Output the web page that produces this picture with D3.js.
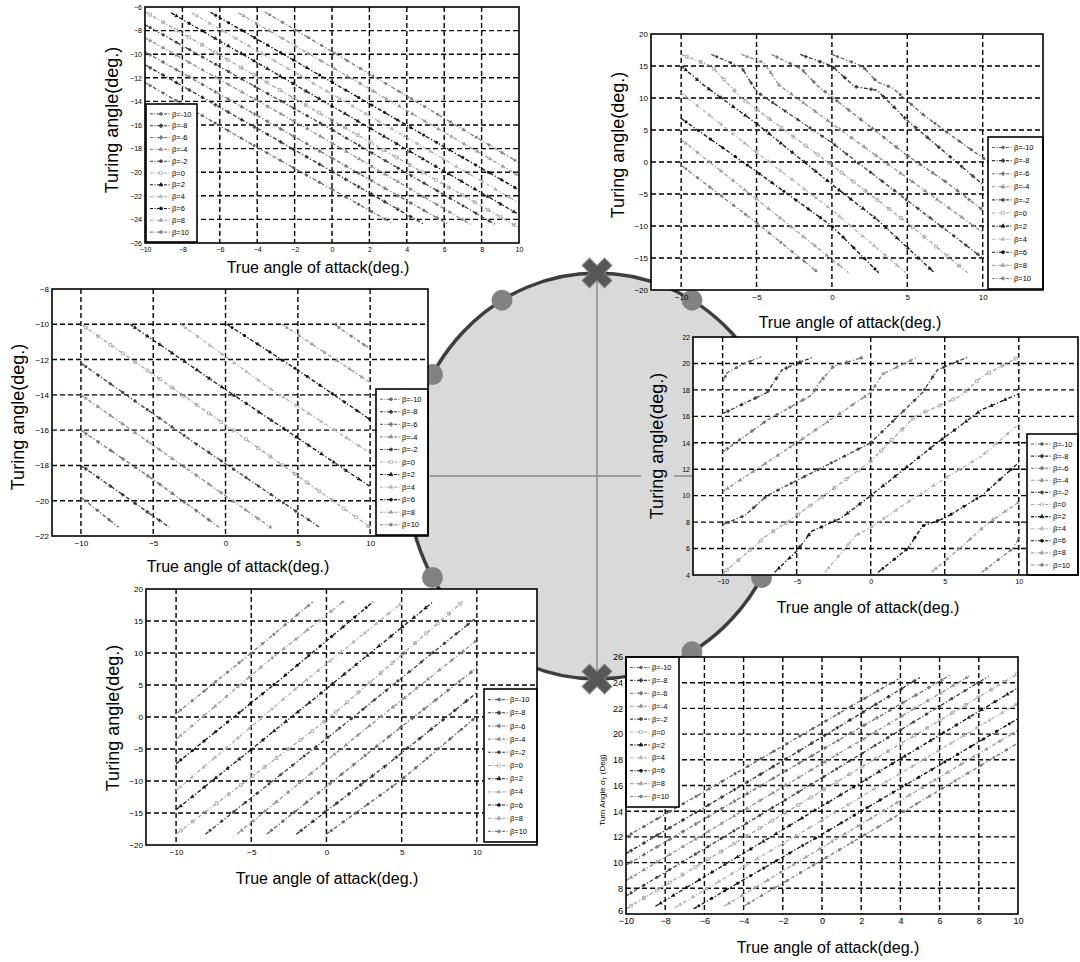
<!DOCTYPE html>
<html>
<head>
<meta charset="utf-8">
<script src="https://cdn.jsdelivr.net/npm/d3@7"></script>
<style>
  body { margin: 0; background: #fff; }
  svg { display: block; }
  text { font-family: "Liberation Sans", Arial, sans-serif; fill: #000; }
</style>
</head>
<body>
<svg id="fig" width="1080" height="962"></svg>
<script>
// ---- data ----
const betas = [-10, -8, -6, -4, -2, 0, 2, 4, 6, 8, 10];
const betaLabels = betas.map(b => 'β=' + b);

const ticksStep2From10 = [-10, -8, -6, -4, -2, 0, 2, 4, 6, 8, 10];
const ticksStep5 = [-10, -5, 0, 5, 10];
const p1YTicks = [-26, -24, -22, -20, -18, -16, -14, -12, -10, -8, -6];
const p2YTicks = [-20, -15, -10, -5, 0, 5, 10, 15, 20];
const p3YTicks = [-22, -20, -18, -16, -14, -12, -10, -8];
const p4YTicks = [4, 6, 8, 10, 12, 14, 16, 18, 20, 22];
const p5YTicks = [-20, -15, -10, -5, 0, 5, 10, 15, 20];
const p6YTicks = [6, 8, 10, 12, 14, 16, 18, 20, 22, 24, 26];

// each panel: one line per beta, in legend order (beta = -10 ... 10), points [alpha, turn]
const p1Lines = [
  [[-10, -12.4], [-4, -17.9], [3.2, -24.3]],
  [[-10, -10.9], [-3, -17.2], [4.9, -24.4]],
  [[-10, -9.8], [-2, -17.0], [6.2, -24.4]],
  [[-10, -8.6], [-1, -16.6], [7.5, -24.5]],
  [[-10, -7.5], [0, -16.4], [8.7, -24.4]],
  [[-10, -6.4], [0, -15.6], [10, -24.7]],
  [[-8.6, -6.5], [0, -14.4], [10, -23.6]],
  [[-7.5, -6.5], [1, -14.3], [10, -22.6]],
  [[-6.5, -6.45], [2, -14.2], [10, -21.5]],
  [[-5, -6.5], [2.5, -13.4], [10, -20.3]],
  [[-3.6, -6.4], [3, -12.6], [10, -19.2]]
];
const p2Lines = [
  [[0, 16.8], [2, 15], [3, 12.5], [4, 11.6], [6, 7.5], [8, 4], [10.4, 0]],
  [[-2.1, 16.8], [0, 15], [1.5, 11.8], [3, 11.2], [5, 6.5], [7.5, 1.5], [10, -3.5]],
  [[-4, 16.8], [-2, 14.5], [-1, 12], [2, 6.5], [5, 1], [7.5, -3], [10, -7.5]],
  [[-6, 16.8], [-4.5, 15.5], [-3.5, 12], [0, 6], [5, -2.5], [10, -11]],
  [[-8, 16.8], [-6, 14.8], [-5, 11], [0, 3], [5, -6], [10, -15]],
  [[-10, 16.8], [-8, 15], [-6, 10], [0, -0.5], [5, -9.5], [9, -17.3]],
  [[-10, 15], [-8.5, 12], [-5, 6], [0, -3.5], [3, -9], [6.8, -17.3]],
  [[-10, 10.8], [-5, 1.5], [0, -7.5], [4.9, -17.3]],
  [[-10, 6.8], [-5, -1.5], [0, -10], [3.1, -17.3]],
  [[-10, 3.5], [-5, -5.8], [1.1, -17.3]],
  [[-10, -0.5], [-5, -9.5], [-0.9, -17.3]]
];
const p3Lines = [
  [[-10, -19.8], [-7.4, -21.5]],
  [[-10, -18], [-3.9, -21.5]],
  [[-10, -16], [-5, -18.8], [-0.45, -21.5]],
  [[-10, -14], [-3, -18], [3.1, -21.5]],
  [[-10, -12.2], [-2, -16.8], [6.5, -21.5]],
  [[-10, -10], [0, -15.7], [10, -21.5]],
  [[-6.6, -10], [0, -13.7], [10, -19.2]],
  [[-3.1, -10], [3, -13.6], [10, -17.3]],
  [[0.1, -10], [5, -12.6], [10, -15.4]],
  [[3.9, -10], [10, -13.3]],
  [[7.5, -10], [10, -11.4]]
];
const p4Lines = [
  [[-10, 18.6], [-9.7, 19.3], [-8.5, 20], [-7.4, 20.5]],
  [[-10, 16.2], [-8.5, 17], [-7, 17.8], [-6, 19.5], [-5, 20], [-3.85, 20.5]],
  [[-10, 13.3], [-7, 15.7], [-4, 17.6], [-3.5, 18.5], [-2.5, 19.8], [-0.4, 20.5]],
  [[-10, 10.3], [-5, 14], [0, 17.8], [0.8, 19.2], [3.2, 20.5]],
  [[-10, 7.8], [-8.5, 8.5], [-7, 10], [0, 14], [3.5, 17.8], [4.5, 19.5], [6.6, 20.5]],
  [[-10, 4.1], [-7, 7], [-5, 8.5], [0, 12.6], [3, 16], [6, 17.5], [7.5, 19], [10, 20.5]],
  [[-6.5, 4.2], [-5, 5.8], [-4, 7.3], [-2, 8.3], [0, 10], [4.5, 14], [7.5, 16.5], [10, 17.7]],
  [[-3.1, 4.2], [-1, 7], [0, 7.6], [2.5, 9.5], [5, 11.3], [7.5, 13], [10, 15.4]],
  [[0.5, 4.2], [2.5, 6], [3.5, 7.7], [5, 8.3], [7.5, 10], [10, 12.5]],
  [[4.1, 4.2], [6, 6], [7, 7], [8, 8], [10, 9.5]],
  [[7.5, 4.2], [9.6, 6], [10, 6.8]]
];
const p5Lines = [
  [[0, -18.3], [5, -9.8], [10, 0.1]],
  [[-2, -18.3], [4, -7.5], [10, 3.8]],
  [[-3.97, -18.3], [3, -5.2], [10, 7.7]],
  [[-5.95, -18.3], [2, -3], [10, 12]],
  [[-8.05, -18.3], [1, -1.5], [10, 15.6]],
  [[-10, -18.3], [0, -0.5], [9.05, 18]],
  [[-10, -14.5], [-1, 2.5], [7.1, 18]],
  [[-10, -11.5], [-2, 4.5], [5.1, 18]],
  [[-10, -7.3], [-3, 6], [3.1, 18]],
  [[-10, -3.5], [-4, 8.5], [1.1, 18]],
  [[-10, 0.5], [-5, 10], [-0.9, 18]]
];
const p6Lines = [
  [[-10, 12], [-4, 17.3], [3.9, 24.3]],
  [[-10, 10.7], [-3, 17], [5, 24.4]],
  [[-10, 9.8], [-2, 17], [6.55, 24.6]],
  [[-10, 8.6], [-1, 16.8], [7.6, 24.6]],
  [[-10, 7.4], [0, 16.6], [8.5, 24.5]],
  [[-10, 6.4], [0, 15.6], [10, 24.7]],
  [[-8.5, 6.6], [0, 14.4], [10, 23.6]],
  [[-7.5, 6.5], [0, 13.3], [10, 22.4]],
  [[-6.55, 6.4], [0, 12.2], [10, 21.2]],
  [[-5, 6.6], [2, 13], [10, 20.3]],
  [[-4, 6.6], [3, 12.9], [10, 19.3]]
];

// line look per beta (legend order)
const seriesColors = ['#636363', '#333333', '#727272', '#909090', '#404040', '#a5a5a5',
                      '#161616', '#b5b5b5', '#0e0e0e', '#9e9e9e', '#808080'];
const seriesMarkers = [d3.symbolCircle, d3.symbolCross, d3.symbolCross, d3.symbolTriangle,
                       d3.symbolCircle, d3.symbolSquare, d3.symbolTriangle, d3.symbolTriangle,
                       d3.symbolCircle, d3.symbolTriangle, d3.symbolCircle];

const svg = d3.select('#fig');

// ---- central ring ----
const ring = { cx: 597, cy: 476, rx: 190, ry: 203 };
const dotAngles = [30, 60, 90, 120, 150, 210, 240, 270, 300, 330];
const crossAngles = [0, 180];
const ringPt = a => [ring.cx + ring.rx * Math.sin(a * Math.PI / 180),
                     ring.cy - ring.ry * Math.cos(a * Math.PI / 180)];

svg.append('ellipse')
  .attr('cx', ring.cx).attr('cy', ring.cy).attr('rx', ring.rx).attr('ry', ring.ry)
  .attr('fill', '#d9d9d9').attr('stroke', '#3d3d3d').attr('stroke-width', 3.5);
svg.append('line')
  .attr('x1', ring.cx).attr('x2', ring.cx)
  .attr('y1', ring.cy - ring.ry).attr('y2', ring.cy + ring.ry)
  .attr('stroke', '#8a8a8a').attr('stroke-width', 1.5);
svg.append('line')
  .attr('x1', ring.cx - ring.rx).attr('x2', ring.cx + ring.rx)
  .attr('y1', ring.cy).attr('y2', ring.cy)
  .attr('stroke', '#8a8a8a').attr('stroke-width', 1.5);
svg.selectAll('circle.rdot').data(dotAngles).join('circle')
  .attr('class', 'rdot')
  .attr('cx', d => ringPt(d)[0]).attr('cy', d => ringPt(d)[1])
  .attr('r', 10.5).attr('fill', '#828282');
svg.selectAll('path.rx').data(crossAngles).join('path')
  .attr('class', 'rx')
  .attr('d', d3.symbol().type(d3.symbolCross).size(560))
  .attr('transform', d => `translate(${ringPt(d)[0]},${ringPt(d)[1]}) rotate(45)`)
  .attr('fill', '#575757').attr('stroke', '#8c8c8c').attr('stroke-width', 1);

// ---- panels ----
const panels = [
  { id: 'p1', left: 145, right: 519, top: 7, bottom: 243, xDomain: [-10, 10], yDomain: [-26, -6],
    xTicks: ticksStep2From10, yTicks: p1YTicks, lines: p1Lines, tick: 7,
    legend: { x: 146, y: 104, w: 51, h: 138 }, yTitle: { x: 112, y: 120 }, xTitle: { x: 318, y: 273 } },
  { id: 'p2', left: 651, right: 1043, top: 34, bottom: 290, xDomain: [-12, 14], yDomain: [-20, 20],
    xTicks: ticksStep5, yTicks: p2YTicks, lines: p2Lines, tick: 8,
    legend: { x: 988, y: 137, w: 55, h: 152 }, yTitle: { x: 618, y: 145 }, xTitle: { x: 850, y: 328 } },
  { id: 'p3', left: 52, right: 428, top: 289, bottom: 536, xDomain: [-12, 14], yDomain: [-22, -8],
    xTicks: ticksStep5, yTicks: p3YTicks, lines: p3Lines, tick: 8,
    legend: { x: 376, y: 389, w: 52, h: 146 }, yTitle: { x: 18, y: 417 }, xTitle: { x: 238, y: 572 } },
  { id: 'p4', left: 693, right: 1078, top: 337, bottom: 575, xDomain: [-12, 14], yDomain: [4, 22],
    xTicks: ticksStep5, yTicks: p4YTicks, lines: p4Lines, tick: 7,
    legend: { x: 1027, y: 434, w: 51, h: 141 }, yTitle: { x: 657, y: 446 }, xTitle: { x: 868, y: 613 },
    titleBack: true },
  { id: 'p5', left: 146, right: 537, top: 589, bottom: 845, xDomain: [-12, 14], yDomain: [-20, 20],
    xTicks: ticksStep5, yTicks: p5YTicks, lines: p5Lines, tick: 8,
    legend: { x: 484, y: 689, w: 53, h: 153 }, yTitle: { x: 113, y: 718 }, xTitle: { x: 327, y: 884 } },
  { id: 'p6', left: 626, right: 1018, top: 657, bottom: 914, xDomain: [-10, 10], yDomain: [6, 26],
    xTicks: ticksStep2From10, yTicks: p6YTicks, lines: p6Lines, tick: 9, liftBottomY: true,
    legend: { x: 626, y: 657, w: 53, h: 150 }, yTitle: { x: 602, y: 790, small: true }, xTitle: { x: 828, y: 953 } }
];

function drawPanel(p) {
  const g = svg.append('g');
  const x = d3.scaleLinear().domain(p.xDomain).range([p.left, p.right]);
  const y = d3.scaleLinear().domain(p.yDomain).range([p.bottom, p.top]);
  const w = p.right - p.left, h = p.bottom - p.top;

  if (p.titleBack) {
    g.append('rect').attr('x', p.yTitle.x - 16).attr('y', p.yTitle.y - 80)
      .attr('width', 33).attr('height', 160).attr('fill', '#d9d9d9');
  }

  g.append('rect').attr('x', p.left).attr('y', p.top).attr('width', w).attr('height', h)
    .attr('fill', '#fff');

  // dashed grid
  const dash = '5,3';
  g.selectAll('line.gx').data(p.xTicks.filter(t => t > p.xDomain[0] && t < p.xDomain[1])).join('line')
    .attr('x1', d => x(d)).attr('x2', d => x(d)).attr('y1', p.top).attr('y2', p.bottom)
    .attr('stroke', '#000').attr('stroke-width', 1.4).attr('stroke-dasharray', dash);
  g.selectAll('line.gy').data(p.yTicks.filter(t => t > p.yDomain[0] && t < p.yDomain[1])).join('line')
    .attr('x1', p.left).attr('x2', p.right).attr('y1', d => y(d)).attr('y2', d => y(d))
    .attr('stroke', '#000').attr('stroke-width', 1.4).attr('stroke-dasharray', dash);

  // curves
  g.append('clipPath').attr('id', p.id + 'clip').append('rect')
    .attr('x', p.left).attr('y', p.top).attr('width', w).attr('height', h);
  const lg = g.append('g').attr('clip-path', `url(#${p.id}clip)`);
  const line = d3.line().x(d => x(d[0])).y(d => y(d[1]));
  p.lines.forEach((pts, i) => {
    const path = lg.append('path').datum(pts).attr('d', line)
      .attr('fill', 'none').attr('stroke', seriesColors[i]).attr('stroke-width', 1.3)
      .attr('stroke-dasharray', '4,2,1.2,2');
    const len = path.node().getTotalLength();
    const sym = d3.symbol().type(seriesMarkers[i]).size(i === 5 ? 9 : 6);
    for (let s = 6; s < len; s += 15) {
      const pt = path.node().getPointAtLength(s);
      lg.append('path').attr('d', sym)
        .attr('transform', `translate(${pt.x},${pt.y})`)
        .attr('fill', i === 5 ? 'none' : seriesColors[i])
        .attr('stroke', seriesColors[i]).attr('stroke-width', i === 5 ? 0.8 : 0.3);
    }
  });

  // legend
  const L = p.legend;
  const lgd = g.append('g');
  lgd.append('rect').attr('x', L.x).attr('y', L.y).attr('width', L.w).attr('height', L.h)
    .attr('fill', '#fff').attr('stroke', '#000').attr('stroke-width', 1.6);
  const rowH = (L.h - 8) / betaLabels.length;
  betaLabels.forEach((lab, i) => {
    const ry = L.y + 4 + rowH * (i + 0.5);
    lgd.append('line').attr('x1', L.x + 4).attr('x2', L.x + 25).attr('y1', ry).attr('y2', ry)
      .attr('stroke', seriesColors[i]).attr('stroke-width', 1.1).attr('stroke-dasharray', '3,1.5,1,1.5');
    lgd.append('path').attr('d', d3.symbol().type(seriesMarkers[i]).size(i === 5 ? 10 : 7))
      .attr('transform', `translate(${L.x + 15},${ry})`)
      .attr('fill', i === 5 ? 'none' : seriesColors[i]).attr('stroke', seriesColors[i]).attr('stroke-width', 0.6);
    lgd.append('text').attr('x', L.x + 26).attr('y', ry + 2.6)
      .attr('font-size', 7.5).text(lab);
  });

  // frame
  g.append('rect').attr('x', p.left).attr('y', p.top).attr('width', w).attr('height', h)
    .attr('fill', 'none').attr('stroke', '#000').attr('stroke-width', 1.6);

  // axes
  const ax = g.append('g').attr('transform', `translate(0,${p.bottom})`)
    .call(d3.axisBottom(x).tickValues(p.xTicks).tickSize(0).tickPadding(4));
  const ay = g.append('g').attr('transform', `translate(${p.left},0)`)
    .call(d3.axisLeft(y).tickValues(p.yTicks).tickSize(0).tickPadding(3));
  [ax, ay].forEach(a => {
    a.select('.domain').remove();
    a.selectAll('text').attr('font-size', p.tick).attr('fill', '#000')
      .style('font-family', '"Liberation Sans", Arial, sans-serif');
  });
  if (p.liftBottomY) {
    // corner label sits just above the x labels
    ay.selectAll('.tick').filter(d => d === p.yDomain[0]).select('text').attr('y', -3);
  }

  // titles
  g.append('text').attr('x', p.xTitle.x).attr('y', p.xTitle.y).attr('text-anchor', 'middle')
    .attr('font-size', 16).text('True angle of attack(deg.)');
  const yt = g.append('text')
    .attr('transform', `translate(${p.yTitle.x},${p.yTitle.y}) rotate(-90)`)
    .attr('text-anchor', 'middle').attr('dy', '0.35em');
  if (p.yTitle.small) {
    yt.attr('font-size', 8);
    yt.append('tspan').text('Turn Angle σ');
    yt.append('tspan').attr('font-size', 6).attr('dy', 2).text('T');
    yt.append('tspan').attr('dy', -2).text(' (Deg)');
  } else {
    yt.attr('font-size', 18).text('Turing angle(deg.)');
  }
}

panels.forEach(drawPanel);
</script>
</body>
</html>
